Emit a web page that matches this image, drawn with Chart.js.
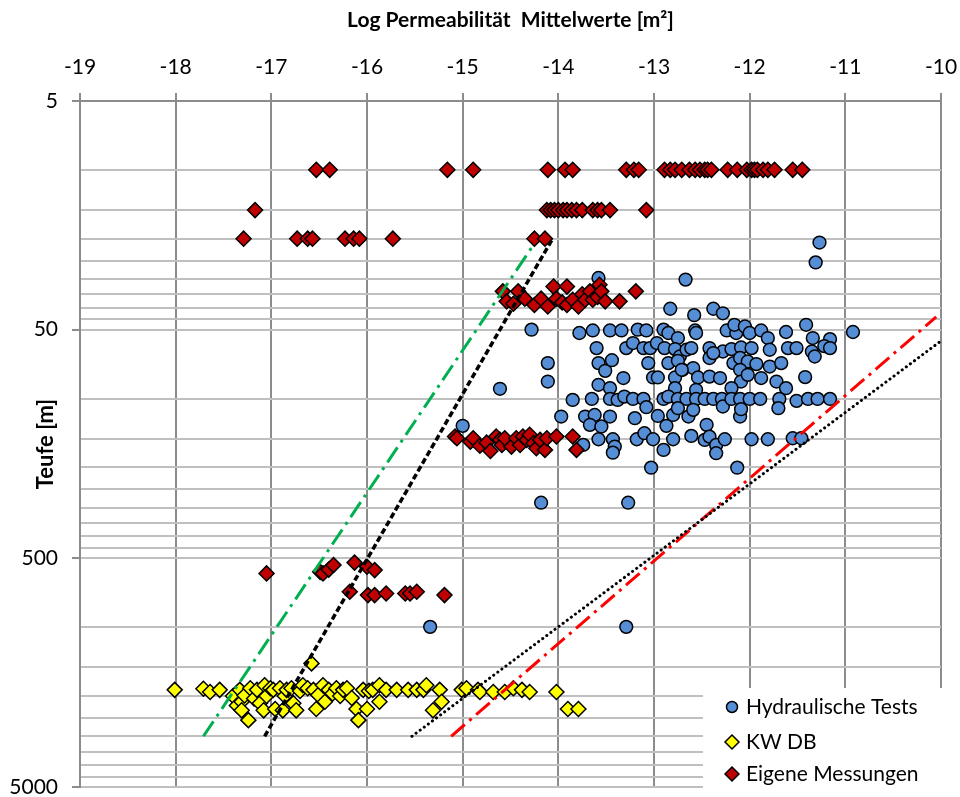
<!DOCTYPE html>
<html>
<head>
<meta charset="utf-8">
<script src="https://cdn.jsdelivr.net/npm/chart.js@4.4.1/dist/chart.umd.min.js"></script>
<style>
  html,body{margin:0;padding:0;background:#fff}
  canvas{display:block}
</style>
</head>
<body>
<canvas id="chart" width="960" height="797"></canvas>
<script>
// --------- Daten: [log k, Teufe m] ---------
const hydro=[
  [-11.27,20.8],[-11.31,25.4],[-12.67,30.2],[-13.58,29.7],
  [-12.83,40.5],[-12.58,43.2],[-12.38,40.5],[-12.28,42.4],[-11.41,47.6],[-10.92,51.2],[-14.28,50],
  [-13.78,51.7],[-13.64,50.4],[-13.46,50.4],[-13.34,50.4],[-13.17,50],[-13.08,50.4],[-12.90,50],[-12.85,51.7],
  [-12.75,54.4],[-12.57,50.4],[-12.56,51.7],[-12.24,50.4],[-12.14,51.7],[-12.16,47.6],[-12.05,48.4],[-12.0,51.7],
  [-11.88,50.4],[-11.81,54.4],[-11.62,51.2],[-11.34,54.4],[-11.16,55],
  [-13.60,60.2],[-13.29,60.2],[-13.22,57.2],[-13.11,60.2],[-13.04,60.2],[-12.97,57.2],[-12.89,60.2],[-12.78,60.8],
  [-12.73,65.5],[-12.66,61.2],[-12.61,60.2],[-12.42,60.2],[-12.28,62.3],[-12.19,60.8],[-12.09,59.8],[-11.98,60.2],
  [-11.79,61.2],[-11.60,60.2],[-11.51,60.2],[-11.35,62.3],[-11.32,65.5],[-11.22,59],[-11.16,60.2],
  [-14.11,70],[-13.58,70],[-13.51,75.7],[-13.44,68],[-13.06,70],[-12.85,70],[-12.75,68.4],[-12.70,74.9],[-12.59,73.6],
  [-12.42,66.5],[-12.38,63.3],[-12.17,70],[-12.10,66.5],[-12.02,68.9],[-11.93,70.7],[-11.79,72.5],[-11.67,70],[-12.10,74.9],
  [-14.11,84.3],[-13.58,87.1],[-13.46,90.1],[-13.32,81.4],[-13.01,80.9],[-12.96,80.9],[-12.78,80.9],[-12.71,74.9],
  [-12.54,80.9],[-12.42,80.2],[-12.31,81.4],[-12.09,84.3],[-12.02,78.8],[-11.88,81.4],[-11.72,84.3],[-11.62,90.1],
  [-11.42,80.6],[-12.56,91.6],[-12.78,90.1],[-12.19,90.1],[-14.61,90.7],
  [-13.85,101.4],[-13.65,100.4],[-13.46,100.4],[-13.38,101.4],[-13.31,98.1],[-13.22,100.4],[-13.11,100.4],[-12.90,100.4],
  [-12.85,98.1],[-12.75,100.4],[-12.66,100.4],[-12.56,100.4],[-12.47,100.4],[-12.38,100.4],[-12.29,100.4],[-12.28,108.4],
  [-12.19,100.4],[-12.10,100.4],[-12.0,100.4],[-11.89,100.4],[-11.69,100.4],[-11.51,102.4],[-11.39,100.4],[-11.29,100.4],[-11.16,100.4],
  [-13.97,119.9],[-13.72,119.9],[-13.62,118],[-13.46,119.9],[-13.67,130.4],[-13.55,132.6],[-13.20,121.9],[-13.08,109.1],
  [-12.96,119.2],[-12.87,131.7],[-12.80,118],[-12.75,110.2],[-12.64,119.9],[-12.59,112.1],[-12.45,130.4],[-12.10,119.9],
  [-12.09,111.4],[-11.70,110.2],[-15.0,131.7],
  [-13.74,159.6],[-13.58,150.7],[-13.43,150.7],[-13.41,162.3],[-13.43,172.5],[-13.18,150.7],[-13.10,141.8],[-13.01,150.7],
  [-12.90,167.8],[-12.80,150.7],[-12.61,145.7],[-12.47,151.7],[-12.42,146.8],[-12.35,159.6],[-12.35,173.5],[-12.26,150.7],
  [-11.98,150.7],[-11.81,150.7],[-11.55,149.2],[-11.46,149.2],
  [-13.03,200.6],[-12.13,200.6],[-14.18,285.6],[-13.27,285.6],[-15.34,997],[-13.29,997]
];
const kwdb=[
  [-18.01,1880],[-17.71,1860],[-17.64,1920],[-17.54,1880],[-17.40,2000],[-17.36,2200],[-17.33,1880],[-17.31,2120],
  [-17.31,2310],[-17.28,1990],[-17.24,2550],[-17.22,1850],[-17.18,2050],[-17.15,1880],[-17.12,2150],[-17.08,2310],
  [-17.07,1795],[-17.05,2000],[-17.01,1850],[-16.98,1880],[-16.96,2280],[-16.91,1850],[-16.88,2310],[-16.86,2000],
  [-16.84,1880],[-16.79,1850],[-16.77,2150],[-16.74,2310],[-16.70,1900],[-16.67,1795],[-16.62,1850],[-16.58,1440],
  [-16.56,1880],[-16.53,2280],[-16.51,1980],[-16.46,1795],[-16.44,2120],[-16.40,1880],[-16.36,1950],[-16.32,1850],
  [-16.28,2000],[-16.25,1880],[-16.21,1850],[-16.16,2040],[-16.11,2280],[-16.09,2550],[-16.04,1880],[-16.0,2280],
  [-15.98,1900],[-15.94,1880],[-15.87,1795],[-15.87,2120],[-15.80,1880],[-15.69,1880],[-15.57,1880],[-15.48,1880],
  [-15.41,1880],[-15.38,1795],[-15.31,2310],[-15.24,1880],[-15.22,2120],[-15.01,1880],[-14.96,1850],[-14.84,1880],
  [-14.82,1920],[-14.68,1920],[-14.56,1920],[-14.47,1850],[-14.38,1880],[-14.30,1920],[-14.02,1920],[-13.90,2280],[-13.79,2280]
];
const eigene=[
  [-16.53,10],[-16.39,10],[-15.16,10],[-14.89,10],[-14.11,10],[-13.93,10],[-13.85,10],[-13.29,10],[-13.21,10],[-13.16,10],
  [-12.89,10],[-12.83,10],[-12.78,10],[-12.71,10],[-12.63,10],[-12.57,10],[-12.52,10],[-12.47,10],[-12.44,10],[-12.40,10],
  [-12.23,10],[-12.13,10],[-12.03,10],[-11.98,10],[-11.95,10],[-11.92,10],[-11.86,10],[-11.81,10],[-11.74,10],[-11.55,10],[-11.45,10],
  [-17.17,15],[-14.12,15],[-14.08,15],[-14.04,15],[-14.0,15],[-13.95,15],[-13.91,15],[-13.86,15],[-13.81,15],[-13.75,15],
  [-13.64,15],[-13.59,15],[-13.55,15],[-13.46,15],[-13.08,15],
  [-17.29,20],[-16.73,20],[-16.62,20],[-16.57,20],[-16.23,20],[-16.14,20],[-16.08,20],[-15.73,20],[-14.25,20],[-14.14,20],
  [-14.58,34],[-14.54,37.6],[-14.47,38.5],[-14.42,34],[-14.35,36.6],[-14.25,39],[-14.18,36.6],[-14.11,39.6],[-14.05,32.4],
  [-14.02,36.6],[-13.96,38],[-13.91,32.4],[-13.91,39],[-13.85,37],[-13.79,39.6],[-13.75,35],[-13.72,37],[-13.67,34],
  [-13.64,37],[-13.59,36],[-13.57,31.8],[-13.55,34],[-13.51,37.6],[-13.36,37.6],[-13.19,34],
  [-15.08,146.7],[-15.06,149.2],[-14.92,154.5],[-14.89,149.2],[-14.82,161],[-14.75,156],[-14.71,169.5],[-14.65,146.7],
  [-14.61,151.7],[-14.59,159.6],[-14.56,149.2],[-14.49,162.3],[-14.44,149.2],[-14.40,159.6],[-14.37,146.7],[-14.33,151.7],
  [-14.30,144],[-14.26,157],[-14.23,164.9],[-14.19,151.7],[-14.14,167.8],[-14.12,149.2],[-14.02,146.7],[-13.85,146.7],[-13.81,167.8],
  [-17.05,582],[-16.49,573],[-16.46,582],[-16.40,560],[-16.35,535],[-16.13,522],[-16.0,544],[-15.92,563],
  [-16.18,700],[-15.99,724],[-15.92,724],[-15.80,712],[-15.60,712],[-15.55,712],[-15.48,700],[-15.19,724]
];
// Trendlinien (Anfang / Ende)
const lineGreen=[[-17.71,3000],[-14.25,21]];
const lineBlackDash=[[-17.07,3000],[-14.06,20]];
const lineBlackDot=[[-15.53,3000],[-10.0,56]];
const lineRed=[[-15.12,3000],[-10.05,44]];

// Achsen
const xMin=-19, xMax=-10;
const yTicks=[5,10,15,20,25,30,35,40,45,50,100,150,200,250,300,350,400,450,500,
              1000,1500,2000,2500,3000,3500,4000,4500,5000];
const yLabels=[5,50,500,5000];

const FONT='Lato';
Chart.defaults.color='#000';
Chart.defaults.font.family=FONT;

const pts=a=>a.map(p=>({x:p[0],y:p[1]}));

function lineDs(arr,color,dash,cap,width){
  return {type:'scatter',data:pts(arr),showLine:true,pointRadius:0,borderColor:color,
    borderWidth:width,borderDash:dash,borderCapStyle:cap,fill:false,order:0,legendHide:true};
}

// --------- Legende im Diagramm ---------
const legendBox={
  id:'legendBox',
  afterDraw(chart){
    const ctx=chart.ctx, a=chart.chartArea;
    const bx=a.right-238, by=a.bottom-99;
    ctx.save();
    ctx.fillStyle='#fff';
    ctx.fillRect(bx,by,chart.width-bx,chart.height-by);
    const items=chart.data.datasets.filter(d=>!d.legendHide);
    const rows=[by+19,by+54,by+86];
    items.forEach((d,i)=>{
      const x=bx+29, y=rows[i];
      ctx.fillStyle=d.backgroundColor; ctx.strokeStyle='#000'; ctx.lineWidth=1.5;
      ctx.beginPath();
      if(d.pointStyle==='circle'){ctx.arc(x,y,5.5,0,Math.PI*2);}
      else{ctx.moveTo(x,y-7);ctx.lineTo(x+7,y);ctx.lineTo(x,y+7);ctx.lineTo(x-7,y);ctx.closePath();}
      ctx.fill(); ctx.stroke();
      ctx.fillStyle='#000'; ctx.font='21px '+FONT; ctx.textBaseline='middle'; ctx.textAlign='left';
      ctx.fillText(d.label,x+14,y);
    });
    ctx.restore();
  }
};

const ctx=document.getElementById('chart').getContext('2d');
new Chart(ctx,{
  type:'scatter',
  data:{datasets:[
    {label:'Hydraulische Tests',data:pts(hydro),pointStyle:'circle',pointRadius:6.4,
      backgroundColor:'#558ED5',borderColor:'#000',pointBorderWidth:1.5,order:3},
    {label:'KW DB',data:pts(kwdb),pointStyle:'rectRot',pointRadius:7.5,
      backgroundColor:'#FFFF00',borderColor:'#000',pointBorderWidth:1.5,order:2},
    {label:'Eigene Messungen',data:pts(eigene),pointStyle:'rectRot',pointRadius:7.5,
      backgroundColor:'#C00000',borderColor:'#000',pointBorderWidth:1.5,order:1},
    lineDs(lineGreen,'#00B050',[18,6,3,6],'butt',3),
    lineDs(lineBlackDash,'#000',[6,3],'butt',3.5),
    lineDs(lineBlackDot,'#000',[0.1,5],'round',3),
    lineDs(lineRed,'#FF0000',[18,6,3,6],'butt',3)
  ]},
  options:{
    responsive:false,animation:false,devicePixelRatio:1,
    layout:{padding:{left:0,right:19,top:0,bottom:10}},
    plugins:{legend:{display:false},tooltip:{enabled:false}},
    scales:{
      x:{type:'linear',position:'top',min:xMin,max:xMax,
        afterFit:s=>{s.height=101;s.paddingLeft=0;s.paddingRight=0;},
        ticks:{stepSize:1,padding:13,font:{size:21},color:'#000'},
        grid:{color:'#8c8c8c',lineWidth:2,tickLength:8},
        border:{color:'#8c8c8c',width:2},
        title:{display:true,text:'Log Permeabilität  Mittelwerte [m²]',font:{size:21,weight:'bold'},padding:{top:8,bottom:0},color:'#000'}
      },
      y:{type:'logarithmic',reverse:true,min:5,max:5000,
        afterFit:s=>{s.width=80;s.paddingTop=0;s.paddingBottom=0;},
        afterBuildTicks:s=>{s.ticks=yTicks.map(v=>({value:v,major:yLabels.includes(v)}));},
        ticks:{autoSkip:false,padding:14,font:{size:21},color:'#000',
          callback:v=>yLabels.includes(v)?String(v):''},
        grid:{color:'#c0c0c0',lineWidth:2,tickLength:8,
          tickColor:c=>(c.tick&&yLabels.includes(c.tick.value))?'#8c8c8c':'rgba(0,0,0,0)'},
        border:{color:'#8c8c8c',width:2},
        title:{display:true,text:'Teufe [m]',font:{size:22,weight:'bold'},padding:{top:33,bottom:0},color:'#000'}
      }
    }
  },
  plugins:[legendBox]
});
</script>
</body>
</html>
